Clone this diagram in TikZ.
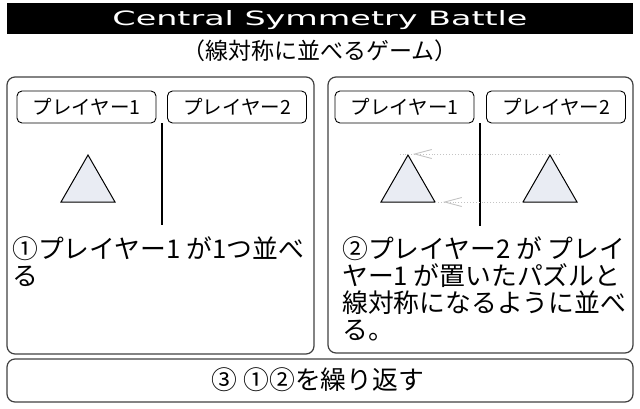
\documentclass[tikz,border=0pt]{standalone}
\usepackage{fontspec}
\setmainfont{Noto Sans CJK JP}
\newfontfamily\titlefont{DejaVu Sans}
\usetikzlibrary{arrows.meta}
\definecolor{trifill}{HTML}{E9ECF3}
\definecolor{framegray}{HTML}{404040}
\definecolor{guidegray}{HTML}{C4C4C4}
\tikzset{ % Common styles
	panel/.style={draw=framegray, line width=1.2pt, rounded corners=8pt, inner sep=0pt},
	tag/.style={draw=black, line width=0.9pt, rounded corners=5pt, minimum width=139pt,
		minimum height=32pt, inner sep=0pt, font=\fontsize{19.5}{19.5}\selectfont},
	divider/.style={line width=1.4pt},
	piece/.style={draw=black, line width=1pt, fill=trifill},
	guide/.style={draw=guidegray, dotted, line width=0.9pt},
	guidetip/.style={draw=guidegray, line width=0.9pt,
		-{Straight Barb[length=17pt,width=9pt]}},
	steptext/.style={align=left, inner sep=0pt, font=\fontsize{25.8}{27}\selectfont},
}
\begin{document}
\begin{tikzpicture}[x=1pt,y=-1pt]
		\useasboundingbox (0,0) rectangle (640,408);
		% Title
		\node [fill=black, minimum width=626pt, minimum height=31pt, inner sep=0pt] (bar) at (320,18.5) {};
		\node [text=white, inner sep=0pt] (title) at (320,20)
		{\resizebox{415pt}{15pt}{\titlefont Central Symmetry Battle}};
		\node [font=\fontsize{23}{23}\selectfont, anchor=base, inner sep=0pt] (subtitle) at (320,59) {（線対称に並べるゲーム）};
		% Panels
		\node [panel, minimum width=307pt, minimum height=277pt] (leftpanel) at (160.5,215.5) {};
		\node [panel, minimum width=305pt, minimum height=276pt] (rightpanel) at (480.5,215) {};
		\node [panel, minimum width=626pt, minimum height=43pt] (bottompanel) at (320,380.5) {};
		% Player tags
		\node [tag] (lp1) at (86.5,107) {プレイヤー1};
		\node [tag] (lp2) at (237,107) {プレイヤー2};
		\node [tag] (rp1) at (404.5,107) {プレイヤー1};
		\node [tag] (rp2) at (556,107) {プレイヤー2};
		% Dividers
		\draw [divider] (162,123) coordinate (ltop) -- (162,225) coordinate (lbot);
		\draw [divider] (480,123) coordinate (rtop) -- (480,226) coordinate (rbot);
		% Pieces
		\coordinate (ta) at (88,155);  \coordinate (tb) at (61,202);  \coordinate (tc) at (115,202);
		\coordinate (ua) at (408,155); \coordinate (ub) at (381,202); \coordinate (uc) at (435,202);
		\coordinate (va) at (550,155); \coordinate (vb) at (523,202); \coordinate (vc) at (577,202);
		\draw [piece] (ta) -- (tb) -- (tc) -- cycle;
		\draw [piece] (ua) -- (ub) -- (uc) -- cycle;
		\draw [piece] (va) -- (vb) -- (vc) -- cycle;
		% Mirror guides
		\coordinate (gtopr) at (560,154); \coordinate (gtopl) at (400,154); \coordinate (htop) at (413,154);
		\coordinate (hbot) at (443,202);
		\draw [guide] (gtopr) -- (gtopl);
		\draw [guidetip] ([xshift=0.5pt]htop) -- (htop);
		\draw [guide] (vb) -- (uc);
		\draw [guidetip] ([xshift=0.5pt]hbot) -- (hbot);
		% Steps (base = last line)
		\node [steptext, anchor=base west] (step1) at (12,285) {①プレイヤー1 が1つ並べ\\る};
		\node [steptext, anchor=base west] (step2) at (342,339)
		{②プレイヤー2 が プレイ\\ヤー1 が置いたパズルと\\線対称になるように並べ\\る。};
		\node [font=\fontsize{25.8}{27}\selectfont, anchor=base, inner sep=0pt] (step3) at (318,389) {③ ①②を繰り返す};
\end{tikzpicture}
\end{document}
